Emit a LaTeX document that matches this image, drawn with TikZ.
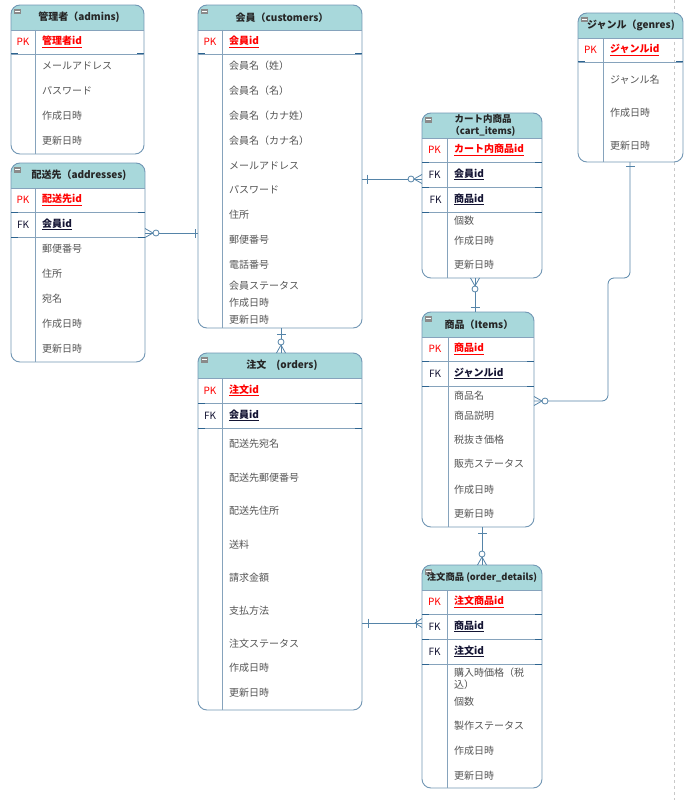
\documentclass[tikz,border=0pt]{standalone}
\usepackage{fontspec}
\setmainfont{Noto Sans CJK JP}
\usetikzlibrary{calc}
\definecolor{hdrfill}{HTML}{A8D8DB}
\definecolor{bordc}{HTML}{7297B5}
\definecolor{sepc}{HTML}{86A3BC}
\definecolor{sepdark}{HTML}{2D6490}
\definecolor{attrc}{HTML}{555555}
\definecolor{pkc}{HTML}{FF0000}
\definecolor{fkc}{HTML}{141433}
\definecolor{connc}{HTML}{5584A8}
\definecolor{iconc}{HTML}{8A8A8A}
\definecolor{pagec}{HTML}{C8C8C8}
\tikzset{
  tblbox/.style={draw=bordc, line width=0.9pt, rounded corners=9pt, inner sep=0pt, outer sep=0pt},
  sepline/.style={draw=sepc, line width=0.9pt},
  sepend/.style={draw=sepdark, line width=1pt},
  hdr/.style={font=\fontsize{10}{12}\selectfont\bfseries, text=black!85, inner sep=0pt, align=center},
  attr/.style={anchor=west, font=\fontsize{10}{12}\selectfont, text=attrc, inner sep=0pt},
  pklab/.style={font=\fontsize{10}{12}\selectfont, text=pkc, inner sep=0pt},
  fklab/.style={font=\fontsize{10}{12}\selectfont, text=fkc, inner sep=0pt},
  pkname/.style={anchor=west, font=\fontsize{10}{12}\selectfont\bfseries, text=pkc, inner sep=0pt},
  fkname/.style={anchor=west, font=\fontsize{10}{12}\selectfont\bfseries, text=fkc, inner sep=0pt},
  conn/.style={draw=connc, line width=0.8pt},
  pagebreak/.style={draw=pagec, line width=0.6pt, dash pattern=on 3pt off 3pt},
}
\newcommand\ertable[7]{%
  \begin{scope}
    \clip[rounded corners=9pt] (#2,#3) rectangle (#4,#5);
    \fill[hdrfill] (#2,#3) rectangle (#4,#6);
  \end{scope}
  \node[tblbox, minimum width={(#4-#2)*1pt}, minimum height={(#5-#3)*1pt}, anchor=north west] (#1) at (#2,#3) {};
  \draw[sepline] (#2,#6) -- (#4,#6);
  \draw[sepline] (#7,#6) -- (#7,#5);
  \fill[iconc] (#2+3,#3+4) rectangle (#2+10,#3+9.5);
  \draw[white, line width=0.8pt] (#2+4.3,#3+6.8) -- (#2+8.7,#3+6.8);
}
\newcommand\rowsep[3]{%
  \draw[sepline] (#1,#3) -- (#2,#3);
  \draw[sepend] (#1,#3) -- (#1+7,#3);
  \draw[sepend] (#2-7,#3) -- (#2,#3);
}
\newcommand\zmany[3]{%
  \begin{scope}[shift={(#1,#2)},rotate=#3]
    \draw[conn, line join=round] (0,-4.5) -- (8,0) -- (0,4.5);
    \draw[conn, fill=white] (11,0) circle (3);
  \end{scope}}
\newcommand\omany[3]{%
  \begin{scope}[shift={(#1,#2)},rotate=#3]
    \draw[conn, line join=round] (0,-4.5) -- (7,0) -- (0,4.5);
    \draw[conn] (6,-4.5) -- (6,4.5);
  \end{scope}}
\newcommand\onebar[4]{%
  \begin{scope}[shift={(#1,#2)},rotate=#3]
    \draw[conn] (#4,-4.5) -- (#4,4.5);
  \end{scope}}
\begin{document}
\begin{tikzpicture}[x=1pt,y=-1pt]
\useasboundingbox (0,0) rectangle (693,800);
\fill[white] (0,0) rectangle (693,800);
\draw[pagebreak] (674,0) -- (674,800);

% ---------- tables ----------
\ertable{adm}{11}{5}{144}{154}{30}{35}
\rowsep{11}{144}{54}
\ertable{addr}{11}{163}{145}{362}{188}{35}
\rowsep{11}{145}{212}
\rowsep{11}{145}{237}
\ertable{cust}{198}{5}{362}{328}{30}{222}
\rowsep{198}{362}{54}
\ertable{ord}{198}{353}{362}{710}{378}{222}
\rowsep{198}{362}{403}
\rowsep{198}{362}{428}
\ertable{cart}{422}{113}{542}{278}{138}{447}
\rowsep{422}{542}{162}
\rowsep{422}{542}{187}
\rowsep{422}{542}{212}
\ertable{items}{422}{312}{534}{527}{337}{448}
\rowsep{422}{534}{361}
\rowsep{422}{534}{386}
\ertable{od}{422}{565}{542}{788}{590}{447}
\rowsep{422}{542}{614}
\rowsep{422}{542}{639}
\rowsep{422}{542}{664}
\ertable{gen}{578}{13}{683}{162}{38}{603}
\rowsep{578}{683}{62}

% ---------- headers ----------
\node[hdr] (adm-h) at (79,17.5) {管理者（admins)};
\node[hdr] (addr-h) at (79,175.5) {配送先（addresses)};
\node[hdr] (cust-h) at (282,17.5) {会員（customers）};
\node[hdr] (ord-h) at (282,365.5) {注文　(orders)};
\node[hdr, font=\fontsize{9.5}{11.5}\selectfont\bfseries] (cart-h) at (483,125.5) {カート内商品\\（cart\_items)};
\node[hdr] (items-h) at (479,324.5) {商品（Items）};
\node[hdr, font=\fontsize{9.3}{11}\selectfont\bfseries] (od-h) at (482,577.5) {注文商品 (order\_details)};
\node[hdr] (gen-h) at (631,25.5) {ジャンル（genres)};

% ---------- key rows ----------
\node[pklab] (adm-pk) at (23,42) {PK};
\node[pkname] (adm-pkn) at (42,42) {\underline{管理者id}};

\node[pklab] (addr-pk) at (23,200) {PK};
\node[pkname] (addr-pkn) at (42,200) {\underline{配送先id}};
\node[fklab] (addr-fk) at (23,224.5) {FK};
\node[fkname] (addr-fkn) at (42,224.5) {\underline{会員id}};

\node[pklab] (cust-pk) at (210,42) {PK};
\node[pkname] (cust-pkn) at (229,42) {\underline{会員id}};

\node[pklab] (ord-pk) at (210,390.5) {PK};
\node[pkname] (ord-pkn) at (229,390.5) {\underline{注文id}};
\node[fklab] (ord-fk) at (210,415.5) {FK};
\node[fkname] (ord-fkn) at (229,415.5) {\underline{会員id}};

\node[pklab] (cart-pk) at (434.5,150) {PK};
\node[pkname] (cart-pkn) at (454,150) {\underline{カート内商品id}};
\node[fklab] (cart-fk1) at (434.5,174.5) {FK};
\node[fkname] (cart-fkn1) at (454,174.5) {\underline{会員id}};
\node[fklab] (cart-fk2) at (435.5,199.5) {FK};
\node[fkname] (cart-fkn2) at (454,199.5) {\underline{商品id}};

\node[pklab] (items-pk) at (435,349) {PK};
\node[pkname] (items-pkn) at (454,349) {\underline{商品id}};
\node[fklab] (items-fk) at (435,373.5) {FK};
\node[fkname] (items-fkn) at (454,373.5) {\underline{ジャンルid}};

\node[pklab] (od-pk) at (434.5,602) {PK};
\node[pkname] (od-pkn) at (454,602) {\underline{注文商品id}};
\node[fklab] (od-fk1) at (434.5,626.5) {FK};
\node[fkname] (od-fkn1) at (454,626.5) {\underline{商品id}};
\node[fklab] (od-fk2) at (434.5,651.5) {FK};
\node[fkname] (od-fkn2) at (454,651.5) {\underline{注文id}};

\node[pklab] (gen-pk) at (590.5,50) {PK};
\node[pkname] (gen-pkn) at (610,50) {\underline{ジャンルid}};

% ---------- attributes ----------
\foreach \yy/\tt [count=\i] in {66/メールアドレス, 91/パスワード, 116/作成日時, 141/更新日時}
  \node[attr] (adm-a\i) at (42,\yy) {\tt};
\foreach \yy/\tt [count=\i] in {249/郵便番号, 274/住所, 299/宛名, 324/作成日時, 349/更新日時}
  \node[attr] (addr-a\i) at (42,\yy) {\tt};
\foreach \yy/\tt [count=\i] in {66/会員名（姓）, 91/会員名（名）, 116/会員名（カナ姓）, 141/会員名（カナ名）, 166/メールアドレス, 190/パスワード, 215/住所, 240/郵便番号, 265/電話番号, 286/会員ステータス, 303/作成日時, 320/更新日時}
  \node[attr] (cust-a\i) at (229,\yy) {\tt};
\foreach \yy/\tt [count=\i] in {444/配送先宛名, 478/配送先郵便番号, 511/配送先住所, 545/送料, 578/請求金額, 611/支払方法, 644/注文ステータス, 668/作成日時, 693/更新日時}
  \node[attr] (ord-a\i) at (229,\yy) {\tt};
\foreach \yy/\tt [count=\i] in {221/個数, 241/作成日時, 265/更新日時}
  \node[attr] (cart-a\i) at (454,\yy) {\tt};
\foreach \yy/\tt [count=\i] in {396/商品名, 416/商品説明, 440/税抜き価格, 464/販売ステータス, 490/作成日時, 514/更新日時}
  \node[attr] (items-a\i) at (454,\yy) {\tt};
\foreach \yy/\tt [count=\i] in {673/購入時価格（税, 685/込）, 702/個数, 726/製作ステータス, 751/作成日時, 776/更新日時}
  \node[attr] (od-a\i) at (454,\yy) {\tt};
\foreach \yy/\tt [count=\i] in {80/ジャンル名, 113/作成日時, 146/更新日時}
  \node[attr] (gen-a\i) at (610,\yy) {\tt};

% ---------- connectors ----------
\coordinate (r233) at (0,233);
\coordinate (r179) at (0,179);
\coordinate (c281) at (281,0);
\coordinate (c475) at (475,0);
\coordinate (c482) at (482,0);
\coordinate (c630) at (630,0);
\coordinate (r401) at (0,401);
\coordinate (r623) at (0,623);
\coordinate (bend) at (608,278);

% addresses -- customers
\draw[conn] (addr.east |- r233) -- (cust.west |- r233);
\zmany{145}{233}{0}
\onebar{198}{233}{180}{3}
% customers -- cart_items
\draw[conn] (cust.east |- r179) -- (cart.west |- r179);
\onebar{362}{179}{0}{5}
\zmany{422}{179}{180}
% customers -- orders
\draw[conn] (cust.south -| c281) -- (ord.north -| c281);
\onebar{281}{328}{-90}{6}
\zmany{281}{353}{90}
% cart_items -- items
\draw[conn] (cart.south -| c475) -- (items.north -| c475);
\zmany{475}{278}{-90}
\onebar{475}{312}{90}{5}
% genres -- items
\draw[conn, rounded corners=6pt] (gen.south -| c630) |- (bend) |- (items.east |- r401);
\onebar{630}{162}{-90}{4}
\zmany{534}{401}{0}
% items -- order_details
\draw[conn] (items.south -| c482) -- (od.north -| c482);
\onebar{482}{527}{-90}{6}
\zmany{482}{565}{90}
% orders -- order_details
\draw[conn] (ord.east |- r623) -- (od.west |- r623);
\onebar{362}{623}{0}{6}
\omany{422}{623}{180}
\end{tikzpicture}
\end{document}
